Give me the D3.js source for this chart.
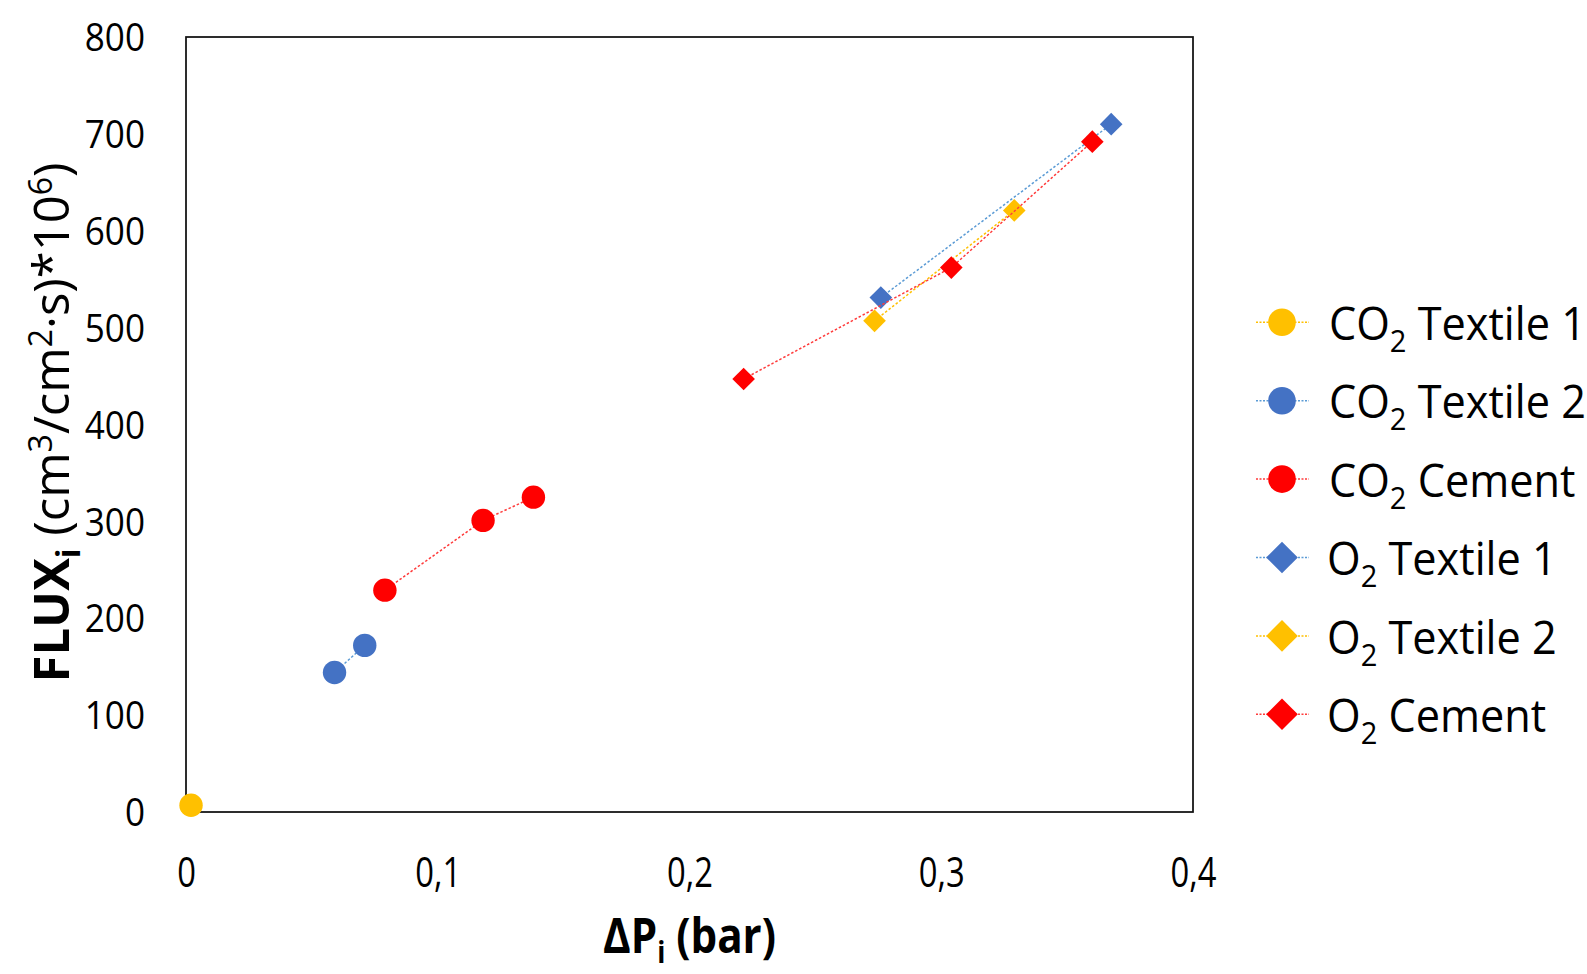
<!DOCTYPE html>
<html>
<head>
<meta charset="utf-8">
<script src="https://cdn.jsdelivr.net/npm/d3@7"></script>
<style>
    body { margin: 0; background: #fff; }
    svg { display: block; font-family: "Open Sans", "Noto Sans", sans-serif; }
</style>
</head>
<body>
<div id="my_chart"></div>
<script>

// series names (the "2" after CO / O is drawn as a subscript)
const seriesNames = ["CO2 Textile 1", "CO2 Textile 2", "CO2 Cement", "O2 Textile 1", "O2 Textile 2", "O2 Cement"];
const seriesShapes = ["circle", "circle", "circle", "diamond", "diamond", "diamond"];
const markerColors = ["#FFC000", "#4472C4", "#FF0000", "#4472C4", "#FFC000", "#FF0000"];
const lineColors = ["#FFC000", "#5B9BD5", "#FF3B3B", "#5B9BD5", "#FFC000", "#FF3B3B"];

// values: ΔP (bar) and flux
const co2Textile1X = [0.002];
const co2Textile1Y = [7];
const co2Textile2X = [0.059, 0.071];
const co2Textile2Y = [144, 172];
const co2CementX = [0.079, 0.118, 0.138];
const co2CementY = [229, 301, 325];
const o2Textile1X = [0.276, 0.3675];
const o2Textile1Y = [531, 710];
const o2Textile2X = [0.2735, 0.329];
const o2Textile2Y = [507, 621];
const o2CementX = [0.2215, 0.304, 0.360];
const o2CementY = [447, 562, 692];

const xTicks = [0, 0.1, 0.2, 0.3, 0.4];
const xTickLabels = ["0", "0,1", "0,2", "0,3", "0,4"];
const yTicks = [0, 100, 200, 300, 400, 500, 600, 700, 800];

const allX = [co2Textile1X, co2Textile2X, co2CementX, o2Textile1X, o2Textile2X, o2CementX];
const allY = [co2Textile1Y, co2Textile2Y, co2CementY, o2Textile1Y, o2Textile2Y, o2CementY];

const series = seriesNames.map((name, i) => ({
    name: name,
    shape: seriesShapes[i],
    color: markerColors[i],
    lineColor: lineColors[i],
    points: allX[i].map((x, j) => ({ x: x, y: allY[i][j] }))
}));

const totalWidth = 1587, totalHeight = 974;
const margin = { top: 37, right: 394, bottom: 162, left: 186 };
const width = totalWidth - margin.left - margin.right;
const height = totalHeight - margin.top - margin.bottom;

const svg = d3.select("#my_chart")
    .append("svg")
    .attr("width", totalWidth)
    .attr("height", totalHeight);

const g = svg.append("g")
    .attr("transform", `translate(${margin.left},${margin.top})`);

const x = d3.scaleLinear().domain([0, 0.4]).range([0, width]);
const y = d3.scaleLinear().domain([0, 800]).range([height, 0]);

// x axis (labels only, the frame is drawn below)
const xAxis = g.append("g")
    .attr("transform", `translate(0,${height})`)
    .call(d3.axisBottom(x).tickValues(xTicks).tickSize(0).tickFormat((d, i) => xTickLabels[i]));
xAxis.select(".domain").remove();
xAxis.selectAll("text")
    .attr("y", 75)
    .attr("dy", 0)
    .attr("transform", "scale(0.78,1)")
    .style("font-size", "42px")
    .style("font-family", "'Open Sans', sans-serif")
    .attr("fill", "#000");

const yAxis = g.append("g")
    .call(d3.axisLeft(y).tickValues(yTicks).tickSize(0));
yAxis.select(".domain").remove();
yAxis.selectAll("text")
    .attr("x", -41 / 0.9)
    .attr("dy", "0.35em")
    .attr("transform", "scale(0.9,1)")
    .style("font-size", "39px")
    .style("font-family", "'Open Sans', sans-serif")
    .attr("fill", "#000");

// plot frame
g.append("rect")
    .attr("x", 0)
    .attr("y", 0)
    .attr("width", width)
    .attr("height", height)
    .attr("fill", "none")
    .attr("stroke", "#111")
    .attr("stroke-width", 1.75);

const line = d3.line().x(d => x(d.x)).y(d => y(d.y));
const diamond = d3.symbol().type(d3.symbolSquare);

function drawMarker(sel, shape, color, big) {
    if (shape === "circle") {
        sel.append("circle")
            .attr("r", big ? 13.8 : 11.7)
            .attr("fill", color);
    } else {
        sel.append("path")
            .attr("d", diamond.size(big ? 500 : 256)())
            .attr("transform", "rotate(45)")
            .attr("fill", color);
    }
}

series.forEach(s => {
    const sg = g.append("g");
    sg.append("path")
        .datum(s.points)
        .attr("d", line)
        .attr("fill", "none")
        .attr("stroke", s.lineColor)
        .attr("stroke-width", 1.5)
        .attr("stroke-dasharray", "2.5,2");
    sg.selectAll(".pt")
        .data(s.points)
        .enter()
        .append("g")
        .attr("transform", d => `translate(${x(d.x)},${y(d.y)})`)
        .each(function () { drawMarker(d3.select(this), s.shape, s.color, false); });
});

// axis titles
const xTitle = svg.append("text")
    .attr("text-anchor", "middle")
    .attr("transform", `translate(${margin.left + width / 2},953) scale(0.86,1)`)
    .style("font-size", "49px")
    .style("font-weight", "bold")
    .attr("fill", "#000");
xTitle.append("tspan").text("ΔP");
xTitle.append("tspan").attr("dy", 10).style("font-size", "31px").text("i");
xTitle.append("tspan").attr("dy", -10).text(" (bar)");

const yTitle = svg.append("text")
    .attr("text-anchor", "middle")
    .attr("transform", `translate(69,${margin.top + height / 2 - 2}) rotate(-90)`)
    .style("font-size", "49px")
    .attr("fill", "#000");
yTitle.append("tspan").style("font-weight", "bold").text("FLUX");
yTitle.append("tspan").attr("dy", 11).style("font-size", "32px").style("font-weight", "bold").text("i");
yTitle.append("tspan").attr("dy", -11).text(" (cm");
yTitle.append("tspan").attr("dy", -17).style("font-size", "32px").text("3");
yTitle.append("tspan").attr("dy", 17).text("/cm");
yTitle.append("tspan").attr("dy", -17).style("font-size", "32px").text("2");
yTitle.append("tspan").attr("dy", 17).text("·s)*10");
yTitle.append("tspan").attr("dy", -17).style("font-size", "32px").text("6");
yTitle.append("tspan").attr("dy", 17).text(")");

// legend
const legend = svg.append("g");
series.forEach((s, i) => {
    const rowY = 322.3 + i * 78.4;
    const row = legend.append("g").attr("transform", `translate(0,${rowY})`);
    row.append("line")
        .attr("x1", 1256)
        .attr("x2", 1309)
        .attr("stroke", s.lineColor)
        .attr("stroke-width", 1.5)
        .attr("stroke-dasharray", "2,1.5");
    const m = row.append("g").attr("transform", "translate(1282,0)");
    drawMarker(m, s.shape, s.color, true);

    const parts = s.name.match(/^(C?O)2 (.*)$/);
    const label = row.append("text")
        .attr("transform", `translate(${parts[1] === "CO" ? 1329 : 1327},17.7) scale(0.94,1)`)
        .style("font-size", "46px")
        .attr("fill", "#000");
    label.append("tspan").text(parts[1]);
    label.append("tspan").attr("dy", 12).style("font-size", "31px").text("2");
    label.append("tspan").attr("dy", -12).text(" " + parts[2]);
});

</script>
</body>
</html>
